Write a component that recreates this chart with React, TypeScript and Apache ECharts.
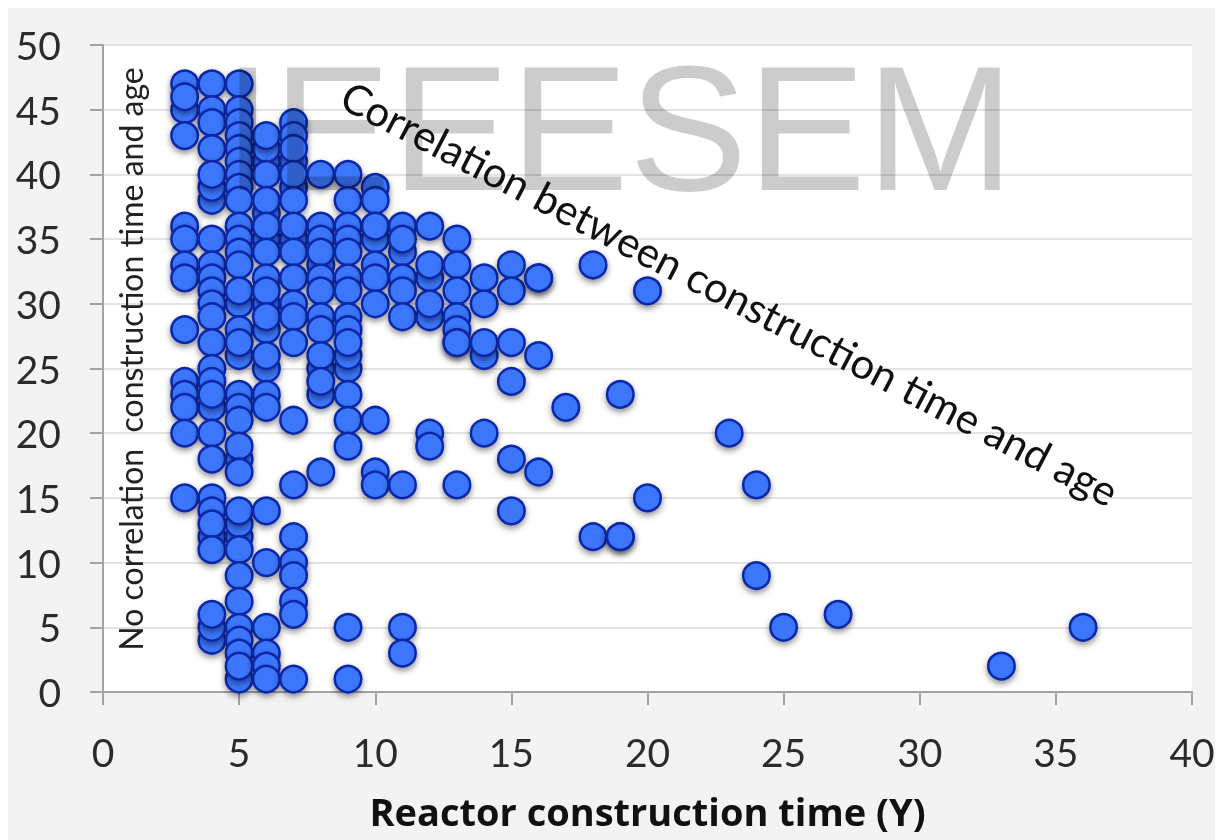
import React, { useEffect, useRef } from "react";
import * as echarts from "echarts";

const yTicksMax = 50;
const xTicksMax = 40;
const tickStep = 5;

const col3 = [47, 45, 46, 43, 36, 35, 33, 32, 28, 24, 23, 22, 20, 15];
const col4 = [47, 45, 44, 42, 38, 39, 40, 35, 33, 32, 31, 30, 29, 27, 25, 24, 22, 23, 20, 18, 15, 14, 12, 13, 11, 4, 5, 6];
const col5 = [47, 45, 44, 43, 42, 41, 40, 39, 38, 36, 35, 34, 33, 30, 31, 26, 28, 27, 23, 22, 21, 18, 19, 17, 12, 13, 14, 11, 9, 7, 5, 4, 3, 1, 2];
const col6 = [41, 42, 43, 40, 37, 38, 35, 36, 34, 30, 32, 31, 28, 29, 25, 26, 23, 22, 14, 10, 5, 3, 2, 1];
const col7 = [44, 43, 41, 42, 39, 40, 38, 35, 36, 34, 32, 30, 29, 27, 21, 16, 12, 10, 9, 7, 6, 1];
const col8 = [40, 36, 35, 33, 34, 32, 31, 29, 28, 25, 26, 23, 24, 17];
const col9 = [40, 38, 36, 35, 34, 32, 31, 29, 25, 26, 28, 27, 23, 21, 19, 5, 1];
const col10 = [39, 38, 35, 36, 33, 32, 30, 21, 17, 16];
const col11 = [36, 34, 35, 32, 31, 29, 16, 5, 3];
const col12 = [36, 32, 33, 29, 30, 20, 19];
const col13 = [35, 33, 31, 29, 28, 27, 27, 16];
const col14 = [32, 30, 26, 27, 20];
const col15 = [33, 31, 27, 24, 18, 14];
const col16 = [32, 32, 26, 17];
const col17 = [22];
const col18 = [33, 12];
const col19 = [23, 12, 12];
const col20 = [31, 15];
const col23 = [20];
const col24 = [16, 9];
const col25 = [5];
const col27 = [6];
const col33 = [2];
const col36 = [5];

const columns: [number, number[]][] = [
  [3, col3], [4, col4], [5, col5], [6, col6], [7, col7], [8, col8], [9, col9],
  [10, col10], [11, col11], [12, col12], [13, col13], [14, col14], [15, col15],
  [16, col16], [17, col17], [18, col18], [19, col19], [20, col20], [23, col23],
  [24, col24], [25, col25], [27, col27], [33, col33], [36, col36],
];

const xName = "Reactor construction time (Y)";
const noteVertical = "No correlation  construction time and age";
const noteDiagonal = "Correlation between construction time and age";
const watermark = "IEEESEM";

const FONT = "Lato, 'Open Sans', sans-serif";

export default function App() {
  const ref = useRef<HTMLDivElement>(null);
  useEffect(() => {
    const chart = echarts.init(ref.current!, undefined, { renderer: "svg" });
    const axisLine = { show: true, lineStyle: { color: "#a3a3a3", width: 2 } };
    const axisTick = { show: true, length: 13, lineStyle: { color: "#a3a3a3", width: 2 } };
    chart.setOption({
      animation: false,
      backgroundColor: "#f3f3f3",
      grid: {
        left: 95,
        top: 37,
        right: 31,
        bottom: 148,
        backgroundColor: "#ffffff",
        show: true,
        borderWidth: 0,
        outerBoundsMode: "none",
      },
      xAxis: {
        type: "value",
        min: 0,
        max: xTicksMax,
        interval: tickStep,
        splitLine: { show: false },
        axisLine,
        axisTick,
        axisLabel: { color: "#2b2b2b", fontSize: 39, fontFamily: FONT, margin: 40 },
        name: xName,
        nameLocation: "middle",
        nameGap: 100,
        nameTextStyle: { color: "#111111", fontSize: 38, lineHeight: 38, fontWeight: "bold", fontFamily: "'Open Sans', Lato, sans-serif" },
      },
      yAxis: {
        type: "value",
        min: 0,
        max: yTicksMax,
        interval: tickStep,
        splitLine: { show: true, lineStyle: { color: "#e3e3e3", width: 2 } },
        axisLine,
        axisTick,
        axisLabel: { color: "#2b2b2b", fontSize: 39, fontFamily: FONT, margin: 42, padding: [8, 0, 0, 0] },
      },
      series: [
        {
          type: "scatter",
          symbol: "circle",
          symbolSize: 26.5,
          clip: false,
          itemStyle: {
            color: "#3b76fb",
            borderColor: "#0a28a8",
            borderWidth: 2.5,
            opacity: 1,
            shadowBlur: 6,
            shadowOffsetY: 3,
            shadowColor: "rgba(0,0,0,0.45)",
          },
          data: columns.flatMap(([x, ys]) => ys.map((y) => [x, y])),
        },
      ],
      graphic: [
        {
          type: "text",
          z: 100,
          x: 122,
          y: 351,
          rotation: Math.PI / 2,
          style: { text: noteVertical, font: `32px ${FONT}`, fill: "#222222", align: "center", verticalAlign: "middle" },
        },
        {
          type: "text",
          z: 100,
          x: 722,
          y: 285,
          rotation: -0.48,
          style: { text: noteDiagonal, font: `42px ${FONT}`, fill: "#111111", align: "center", verticalAlign: "middle" },
        },
        {
          type: "text",
          z: 101,
          x: 215,
          y: 120,
          style: {
            text: watermark,
            font: "178px 'Liberation Sans', Arial, sans-serif",
            fill: "rgba(0,0,0,0.2)",
            align: "left",
            verticalAlign: "middle",
          },
        },
      ],
    });
    return () => chart.dispose();
  }, []);
  return <div ref={ref} style={{ width: 1215, height: 832, filter: "blur(0.5px)" }} />;
}
